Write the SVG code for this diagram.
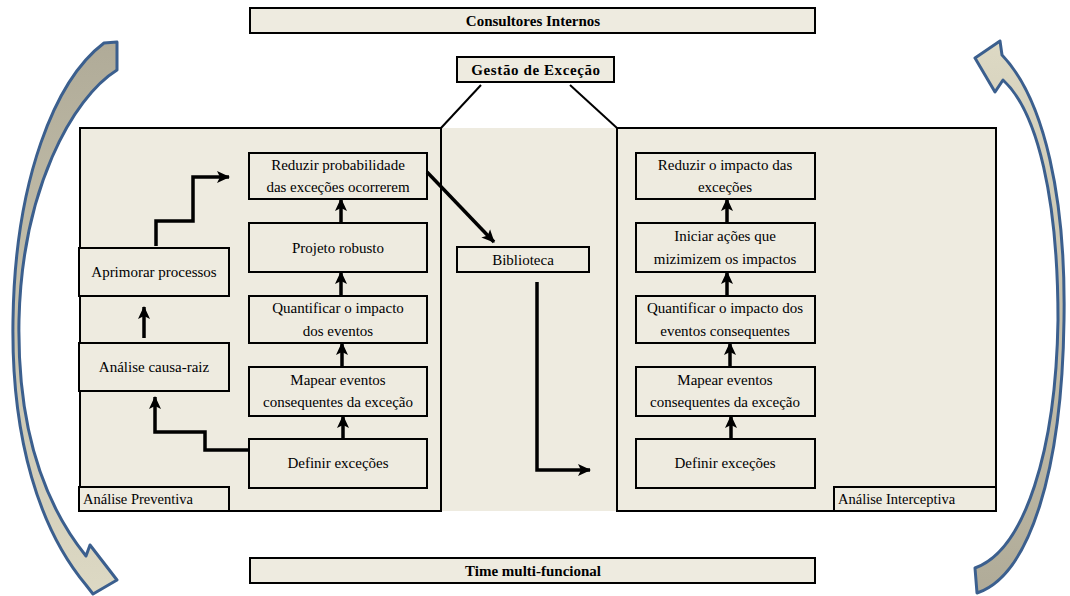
<svg xmlns="http://www.w3.org/2000/svg" width="1070" height="596" viewBox="0 0 1070 596">
<defs>
<style>
text{font-family:"Liberation Serif","DejaVu Serif",serif}
.panel{fill:#eeebe0;stroke:#000;stroke-width:2}
.box{fill:#eeebe0;stroke:#000;stroke-width:2}
.t{font-size:15px;fill:#000;text-anchor:middle}
.tl{font-size:14.5px;fill:#000}
.b{font-size:15px;font-weight:bold;fill:#000;text-anchor:middle}
.c{fill:none;stroke:#000;stroke-width:3.5;stroke-linejoin:miter}
.ln{fill:none;stroke:#000;stroke-width:2}
.arc{stroke:#3b5f8e;stroke-width:3;stroke-linejoin:round}
</style>
<marker id="ah" markerUnits="userSpaceOnUse" markerWidth="14" markerHeight="14" viewBox="0 0 14 14" refX="12" refY="7" orient="auto">
<path d="M0,1 L13,7 L0,13 L3,7 Z" fill="#000"/>
</marker>
<linearGradient id="gl" x1="0" y1="0" x2="0" y2="1">
<stop offset="0" stop-color="#b0ab98"/>
<stop offset="1" stop-color="#ddd9c4"/>
</linearGradient>
<linearGradient id="gr" x1="0" y1="1" x2="0" y2="0">
<stop offset="0" stop-color="#b0ab98"/>
<stop offset="1" stop-color="#ddd9c4"/>
</linearGradient>
</defs>

<g id="arc-left">
<path class="arc" fill="url(#gl)" d="M104,43 L117,42 L117,70 C72,98 22,190 19,320 C17,430 45,505 86,556 L90,545 L117,580 L93,594 L86,585 C40,530 11,440 13,320 C15,180 55,80 104,43 Z"/>
</g>
<g id="arc-right">
<path class="arc" fill="url(#gr)" d="M975,568 L977,593 C1030,575 1062,470 1064,320 C1066,200 1045,100 1002,55 L1000,41 L975,58 L995,92 L1003,80 C1038,112 1058,200 1058,320 C1056,450 1025,550 975,568 Z"/>
</g>

<g id="middle">
<rect x="441" y="128" width="176" height="383" fill="#eeebe0"/>
</g>
<g id="panel-preventiva">
<rect class="panel" x="80" y="128" width="361" height="383"/>
</g>
<g id="panel-interceptiva">
<rect class="panel" x="617" y="128" width="379" height="383"/>
</g>

<g id="consultores">
<rect class="box" x="250" y="8" width="565" height="25"/>
<text class="b" x="533" y="26">Consultores Internos</text>
</g>
<g id="time">
<rect class="box" x="250" y="558" width="565" height="25"/>
<text class="b" x="533" y="576">Time multi-funcional</text>
</g>
<g id="gestao">
<rect class="box" x="457" y="57" width="157" height="25"/>
<text class="b" x="536" y="75" letter-spacing="0.6">Gestão de Exceção</text>
</g>

<g id="l-reduzir">
<rect class="box" x="249" y="153" width="178" height="46"/>
<text class="t" x="338" y="170">Reduzir probabilidade</text>
<text class="t" x="338" y="192">das exceções ocorrerem</text>
</g>
<g id="l-projeto">
<rect class="box" x="249" y="223" width="178" height="49"/>
<text class="t" x="338" y="253">Projeto robusto</text>
</g>
<g id="l-quantificar">
<rect class="box" x="249" y="296" width="178" height="47"/>
<text class="t" x="338" y="313">Quantificar o impacto</text>
<text class="t" x="338" y="336">dos eventos</text>
</g>
<g id="l-mapear">
<rect class="box" x="249" y="367" width="178" height="49"/>
<text class="t" x="338" y="385">Mapear eventos</text>
<text class="t" x="338" y="407">consequentes da exceção</text>
</g>
<g id="l-definir">
<rect class="box" x="249" y="439" width="178" height="49"/>
<text class="t" x="338" y="468">Definir exceções</text>
</g>
<g id="l-aprimorar">
<rect class="box" x="79" y="248" width="150" height="48"/>
<text class="t" x="154" y="277">Aprimorar processos</text>
</g>
<g id="l-causa">
<rect class="box" x="79" y="343" width="150" height="48"/>
<text class="t" x="154" y="372">Análise causa-raiz</text>
</g>
<g id="l-label">
<rect class="box" x="79" y="487" width="150" height="24"/>
<text class="tl" x="83" y="504">Análise Preventiva</text>
</g>

<g id="biblioteca">
<rect class="box" x="457" y="247" width="132" height="25"/>
<text class="t" x="523" y="265">Biblioteca</text>
</g>

<g id="r-reduzir">
<rect class="box" x="636" y="153" width="179" height="46"/>
<text class="t" x="725" y="170">Reduzir o impacto das</text>
<text class="t" x="725" y="192">exceções</text>
</g>
<g id="r-iniciar">
<rect class="box" x="636" y="223" width="179" height="49"/>
<text class="t" x="725" y="241">Iniciar ações que</text>
<text class="t" x="725" y="264">mizimizem os impactos</text>
</g>
<g id="r-quantificar">
<rect class="box" x="636" y="296" width="179" height="47"/>
<text class="t" x="725" y="313">Quantificar o impacto dos</text>
<text class="t" x="725" y="336">eventos consequentes</text>
</g>
<g id="r-mapear">
<rect class="box" x="636" y="367" width="179" height="49"/>
<text class="t" x="725" y="385">Mapear eventos</text>
<text class="t" x="725" y="407">consequentes da exceção</text>
</g>
<g id="r-definir">
<rect class="box" x="636" y="439" width="179" height="49"/>
<text class="t" x="725" y="468">Definir exceções</text>
</g>
<g id="r-label">
<rect class="box" x="834" y="487" width="162" height="24"/>
<text class="tl" x="838" y="504">Análise Interceptiva</text>
</g>

<g id="connectors">
<path class="ln" d="M481,85 L441,128"/>
<path class="ln" d="M570,85 L617,128"/>
<path class="c" marker-end="url(#ah)" d="M343,439 L343,416"/>
<path class="c" marker-end="url(#ah)" d="M342,367 L342,343"/>
<path class="c" marker-end="url(#ah)" d="M341,296 L341,272"/>
<path class="c" marker-end="url(#ah)" d="M341,223 L341,199"/>
<path class="c" marker-end="url(#ah)" d="M731,439 L731,416"/>
<path class="c" marker-end="url(#ah)" d="M730,367 L730,343"/>
<path class="c" marker-end="url(#ah)" d="M727,296 L727,272"/>
<path class="c" marker-end="url(#ah)" d="M727,223 L727,199"/>
<path class="c" marker-end="url(#ah)" d="M144,338 L144,307"/>
<path class="c" marker-end="url(#ah)" d="M249,450 L205,450 L205,432 L155,432 L155,397"/>
<path class="c" marker-end="url(#ah)" d="M156,246 L156,221 L193,221 L193,177 L229,177"/>
<path class="c" marker-end="url(#ah)" d="M427,172 L494,242"/>
<path class="c" marker-end="url(#ah)" d="M537,282 L537,470 L590,470"/>
</g>
</svg>
